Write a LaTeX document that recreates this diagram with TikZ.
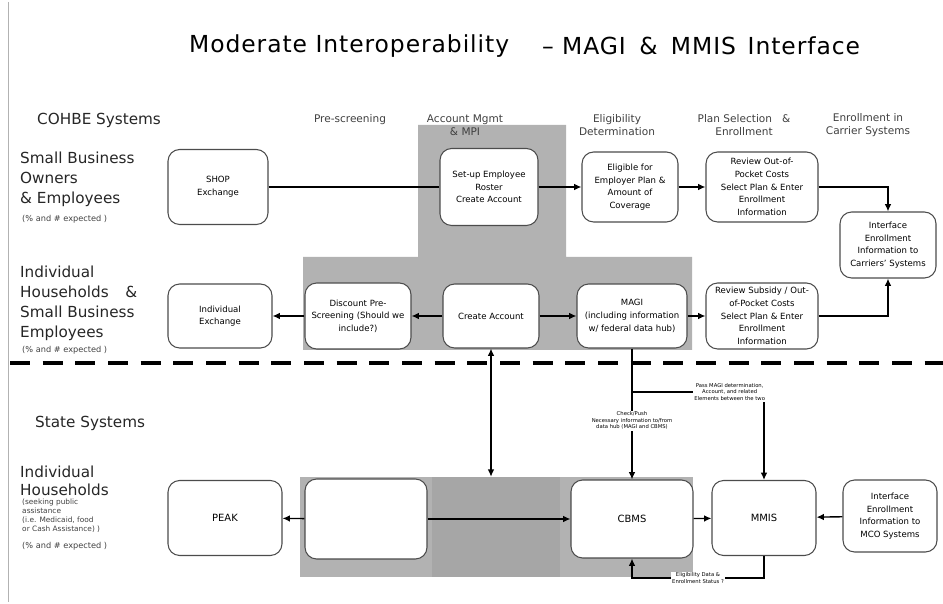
\documentclass[tikz,border=0pt]{standalone}
\usepackage{fontspec}
\setmainfont{DejaVu Sans}
\usetikzlibrary{arrows.meta, positioning}

\begin{document}
\begin{tikzpicture}[
    x=0.3mm, y=-0.3mm,
    box/.style={rectangle, draw=black!70, line width=0.9pt, fill=white, rounded corners=3.5mm, align=center, inner sep=1pt, font=\fontsize{7.3}{10.8}\selectfont},
    bigbox/.style={box, font=\fontsize{8.5}{10}\selectfont},
    hubshade/.style={rectangle, fill=gray!70, draw=none, inner sep=0pt},
    group/.style={font=\fontsize{13}{17}\selectfont, align=left, anchor=north west, inner sep=0pt, text=black!85},
    note/.style={font=\fontsize{7}{8}\selectfont, anchor=west, inner sep=0pt, text=black!75},
    colhead/.style={font=\fontsize{9}{11}\selectfont, align=center, text=black!75},
    link/.style={line width=1.2pt, draw=black},
    arrow/.style={link, -{Latex[length=2.2mm, width=2mm]}},
    arrowboth/.style={link, {Latex[length=2.2mm, width=2mm]}-{Latex[length=2.2mm, width=2mm]}},
    edgelabel/.style={font=\fontsize{4.5}{5.5}\selectfont, align=center, fill=white, inner sep=1pt}
]
    \useasboundingbox (0,0) rectangle (943,604);
    \draw[gray!60, line width=0.4pt] (8,2) -- (8,602);

    % shaded areas behind the boxes
    \fill[gray!60] (418,125) -- (566,125) -- (566,257) -- (692,257) -- (692,350) -- (303,350) -- (303,257) -- (418,257) -- cycle;
    \fill[gray!60] (300,477) rectangle (693,577);
    \node[hubshade, minimum width=38.4mm, minimum height=30mm] (hub) at (496,527) {};

    % title and headings
    \node[anchor=west, font=\fontsize{20}{24}\selectfont\addfontfeature{LetterSpace=4}] (title) at (185,46) {Moderate Interoperability};
    \node[anchor=west, font=\fontsize{20}{24}\selectfont\addfontfeature{LetterSpace=4}] (subtitle) at (538,46) {–\hspace{2.5mm}MAGI\hspace{1.5mm} \&\hspace{1.5mm} MMIS\hspace{1mm} Interface};

    \node[colhead] (hpre) at (350,120) {Pre-screening};
    \node[colhead] (hacct) at (465,125) {Account Mgmt\\\& MPI};
    \node[colhead] (helig) at (617,125) {Eligibility\\Determination};
    \node[colhead] (hplan) at (744,125) {Plan Selection\hspace{3mm}\&\\Enrollment};
    \node[colhead] (henrol) at (868,125) {Enrollment in\\Carrier Systems};

    % left hand labels
    \node[group, anchor=west] (cohbe) at (37,120) {COHBE Systems};
    \node[group] (smallbiz) at (20,152) {Small Business\\Owners\\\& Employees};
    \node[note] (smallnote) at (22,219) {(\% and \# expected )};
    \node[group] (households) at (20,266) {Individual\\Households\hspace{5mm}\&\\Small Business\\Employees};
    \node[note] (housenote) at (22,350) {(\% and \# expected )};
    \node[group, anchor=west] (state) at (35,423) {State Systems};
    \node[group, font=\fontsize{13}{15.5}\selectfont] (statehh) at (20,466) {Individual\\Households};
    \node[group, font=\fontsize{6.3}{7.6}\selectfont, text=black!75] (seeking) at (22,499) {(seeking public\\assistance\\(i.e. Medicaid, food\\or Cash Assistance) )};
    \node[note] (statenote) at (22,546) {(\% and \# expected )};

    % separator
    \draw[line width=1.2mm, dash pattern=on 6mm off 3.8mm] (10,363) -- (943,363);

    % COHBE boxes
    \node[box, minimum width=30mm, minimum height=22.5mm] (shop) at (218,187) {SHOP\\Exchange};
    \node[box, minimum width=29.4mm, minimum height=23.1mm] (setup) at (489,187) {Set-up Employee\\Roster\\Create Account};
    \node[box, minimum width=28.8mm, minimum height=21mm] (elig) at (630,187) {Eligible for\\Employer Plan \&\\Amount of\\Coverage};
    \node[box, minimum width=33.6mm, minimum height=21mm] (review1) at (762,187) {Review Out-of-\\Pocket Costs\\Select Plan \& Enter\\Enrollment\\Information};
    \node[box, minimum width=28.8mm, minimum height=19.8mm] (iface1) at (888,245) {Interface\\Enrollment\\Information to\\Carriers' Systems};
    \node[box, minimum width=31.2mm, minimum height=19.2mm] (indiv) at (220,316) {Individual\\Exchange};
    \node[box, minimum width=31.8mm, minimum height=19.8mm] (discount) at (358,316) {Discount Pre-\\Screening (Should we\\include?)};
    \node[box, minimum width=28.8mm, minimum height=19.2mm] (create) at (491,316) {Create Account};
    \node[box, minimum width=33mm, minimum height=19.2mm] (magi) at (632,316) {MAGI\\(including information\\w/ federal data hub)};
    \node[box, minimum width=33.6mm, minimum height=19.8mm] (review2) at (762,316) {Review Subsidy / Out-\\of-Pocket Costs\\Select Plan \& Enter\\Enrollment\\Information};

    % state boxes
    \node[bigbox, minimum width=34.2mm, minimum height=22.5mm] (peak) at (225,518) {PEAK};
    \node[box, minimum width=36.6mm, minimum height=24mm] (blank) at (366,519) {};
    \node[bigbox, minimum width=36.6mm, minimum height=23.4mm] (cbms) at (632,519) {CBMS};
    \node[bigbox, minimum width=31.2mm, minimum height=22.5mm] (mmis) at (764,518) {MMIS};
    \node[box, minimum width=28.2mm, minimum height=21.6mm] (iface2) at (890,516) {Interface\\Enrollment\\Information to\\MCO Systems};

    % connectors
    \draw[link] (shop) -- (setup);
    \draw[arrow] (setup) -- (elig);
    \draw[arrow] (elig) -- (review1);
    \draw[arrow] (review1.east) -| (iface1.north);
    \draw[arrow] (review2.east) -| (iface1.south);
    \draw[arrow] (discount) -- (indiv);
    \draw[arrow] (create) -- (discount);
    \draw[arrow] (create) -- (magi);
    \draw[arrow] (magi) -- (review2);
    \draw[arrowboth] (create.south) -- (create.south |- hub.north);

    \coordinate (j1) at (632,392);
    \draw[arrow] (magi) -- node[edgelabel, pos=0.55] (pushlbl) {Check/Push\\Necessary information to/from\\data hub (MAGI and CBMS)} (cbms);
    \draw[arrow] (j1) -| node[edgelabel, pos=0.37] (passlbl) {Pass MAGI determination,\\Account, and related\\Elements between the two} (mmis);

    \draw[arrow] (blank) -- (peak);
    \draw[arrow] (blank) -- (cbms);
    \draw[arrow] (cbms) -- (mmis);
    \draw[arrow] (iface2) -- (mmis);
    \draw[arrow] (mmis.south) -- ++(0,22) -| node[edgelabel, pos=0.25] (datalbl) {Eligibility Data \&\\Enrollment Status ?} (cbms.south);
\end{tikzpicture}
\end{document}
